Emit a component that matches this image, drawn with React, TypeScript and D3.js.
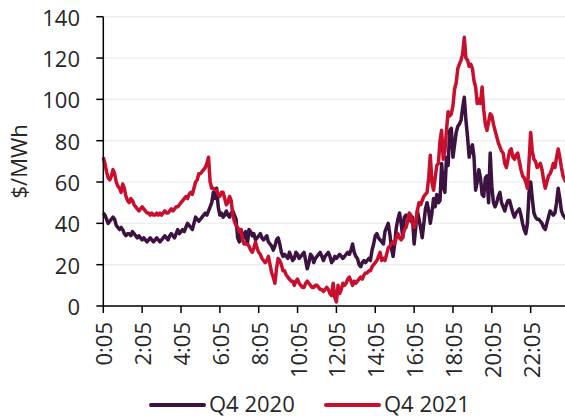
import React from "react";
import * as d3 from "d3";

// 5-minute intervals, 0:05 .. 24:00 (288 points), one hour per row
const q4_2020: number[] = [
  45, 44, 42, 40, 41, 42, 43, 42, 39, 38, 37, 38,
  37, 35, 34, 35, 35, 34, 36, 35, 34, 33, 34, 33,
  32, 33, 32, 31, 32, 33, 32, 31, 32, 33, 32, 31,
  32, 33, 34, 33, 32, 34, 35, 34, 33, 35, 37, 35,
  36, 37, 36, 38, 40, 39, 38, 37, 40, 43, 42, 41,
  42, 43, 44, 45, 44, 46, 48, 50, 55, 52, 57, 48,
  44, 45, 43, 44, 46, 44, 43, 45, 46, 44, 42, 33,
  31, 37, 35, 33, 36, 30, 37, 36, 34, 35, 32, 33,
  34, 35, 33, 32, 33, 34, 31, 30, 29, 27, 29, 32,
  33, 30, 26, 24, 25, 24, 23, 26, 24, 22, 23, 26,
  25, 23, 24, 25, 26, 22, 18, 21, 25, 24, 21, 23,
  24, 25, 26, 24, 22, 24, 25, 26, 24, 21, 22, 24,
  23, 24, 25, 24, 23, 24, 25, 26, 25, 27, 30, 26,
  24, 23, 20, 19, 21, 22, 21, 22, 23, 22, 27, 30,
  34, 35, 33, 32, 31, 30, 36, 38, 40, 35, 28, 24,
  30, 38, 42, 45, 40, 33, 43, 44, 43, 42, 41, 43,
  30, 38, 46, 42, 38, 33, 40, 47, 50, 46, 40, 45,
  52, 48, 54, 50, 51, 69, 58, 55, 72, 68, 85, 86,
  72, 78, 84, 87, 88, 90, 96, 101, 90, 82, 72, 76,
  78, 72, 56, 60, 66, 62, 54, 53, 62, 63, 50, 74,
  58, 50, 48, 50, 53, 55, 50, 48, 46, 49, 51, 51,
  48, 45, 43, 45, 46, 47, 44, 40, 37, 35, 40, 55,
  60, 52, 45, 43, 42, 42, 41, 40, 38, 37, 40, 43,
  46, 45, 44, 45, 50, 57, 52, 46, 44, 43, 42, 41,
];

const q4_2021: number[] = [
  72, 69, 65, 62, 61, 63, 66, 64, 60, 58, 57, 55,
  59, 57, 53, 51, 50, 52, 51, 49, 48, 47, 46, 47,
  48, 47, 46, 45, 45, 44, 45, 44, 44, 45, 44, 45,
  44, 45, 46, 45, 45, 46, 47, 46, 47, 48, 48, 49,
  50, 51, 52, 53, 52, 54, 55, 54, 57, 60, 61, 64,
  64, 65, 66, 67, 69, 72, 60, 57, 57, 56, 56, 54,
  53, 55, 55, 52, 49, 50, 53, 51, 44, 41, 39, 38,
  36, 37, 32, 30, 30, 30, 29, 27, 26, 28, 31, 28,
  26, 25, 23, 22, 21, 22, 24, 20, 16, 14, 11, 18,
  23, 22, 20, 17, 17, 15, 14, 13, 12, 12, 10, 12,
  13, 11, 10, 9, 9, 11, 12, 11, 10, 9, 9, 10,
  10, 9, 8, 8, 7, 8, 9, 8, 6, 5, 11, 4,
  2, 10, 6, 8, 11, 10, 11, 13, 14, 12, 10, 12,
  11, 12, 13, 14, 13, 15, 16, 16, 17, 17, 19, 20,
  21, 22, 24, 26, 22, 23, 22, 25, 28, 29, 30, 31,
  30, 33, 35, 33, 32, 34, 37, 38, 41, 45, 44, 40,
  38, 40, 46, 50, 49, 51, 53, 54, 55, 62, 73, 60,
  56, 62, 68, 69, 80, 85, 71, 75, 85, 94, 92, 93,
  97, 105, 108, 115, 117, 119, 122, 130, 120, 119, 116, 117,
  115, 109, 106, 98, 100, 98, 106, 95, 88, 85, 89, 93,
  92, 88, 85, 82, 79, 77, 75, 74, 69, 67, 71, 75,
  76, 72, 71, 73, 74, 70, 66, 63, 62, 60, 57, 70,
  84, 75, 71, 70, 67, 68, 69, 66, 61, 57, 60, 63,
  64, 66, 69, 67, 72, 76, 72, 67, 63, 61, 60, 59,
];

const xTickLabels: string[] = [
  "0:05", "2:05", "4:05", "6:05", "8:05", "10:05",
  "12:05", "14:05", "16:05", "18:05", "20:05", "22:05",
];
const yTicks: number[] = [0, 20, 40, 60, 80, 100, 120, 140];
const seriesNames: string[] = ["Q4 2020", "Q4 2021"];
const seriesColors: string[] = ["#3b1240", "#c8102e"];

const W = 565;
const H = 418;
const FONT = "'Open Sans', 'Noto Sans', sans-serif";

export default function App() {
  const x = d3.scaleLinear().domain([0, 287]).range([103.3, 567.9]);
  const y = d3.scaleLinear().domain([0, 140]).range([306, 16.7]);
  const line = d3
    .line<number>()
    .x((_, i) => x(i))
    .y((d) => y(d))
    .curve(d3.curveLinear);
  const series = [q4_2020, q4_2021];
  const legendX = [151, 326];

  return (
    <svg
      width={W}
      height={H}
      style={{ position: "absolute", left: 0, top: 0, background: "#fff" }}
      fontFamily={FONT}
    >
      {yTicks.map((t) => (
        <line
          key={"g" + t}
          x1={x(0)}
          x2={W}
          y1={y(t)}
          y2={y(t)}
          stroke="#efefef"
          strokeWidth={1.5}
        />
      ))}
      {series.map((s, k) => (
        <path
          key={"s" + k}
          d={line(s) || ""}
          fill="none"
          stroke={seriesColors[k]}
          strokeWidth={3.5}
          strokeLinejoin="round"
        />
      ))}
      <line x1={x(0)} x2={x(0)} y1={y(140)} y2={y(0)} stroke="#000" strokeWidth={1.5} />
      <line x1={x(0)} x2={W} y1={y(0)} y2={y(0)} stroke="#000" strokeWidth={1.5} />
      {yTicks.map((t) => (
        <g key={"yt" + t}>
          <line x1={x(0) - 7} x2={x(0)} y1={y(t)} y2={y(t)} stroke="#000" strokeWidth={1.5} />
          <text
            x={80}
            y={y(t)}
            textAnchor="end"
            dominantBaseline="central"
            fontSize={22}
            fill="#262626"
          >
            {t}
          </text>
        </g>
      ))}
      {xTickLabels.map((lab, i) => {
        const px = x(i * 24);
        return (
          <g key={"xt" + i}>
            <line x1={px} x2={px} y1={y(0)} y2={y(0) + 7} stroke="#000" strokeWidth={1.5} />
            <text
              transform={`translate(${px},322) rotate(-90)`}
              textAnchor="end"
              dominantBaseline="central"
              fontSize={22}
              fill="#262626"
            >
              {lab}
            </text>
          </g>
        );
      })}
      <text
        transform={`translate(18,${(y(0) + y(140)) / 2}) rotate(-90)`}
        textAnchor="middle"
        dominantBaseline="central"
        fontSize={22}
        fill="#262626"
      >
        $/MWh
      </text>
      {seriesNames.map((n, k) => (
        <g key={"lg" + k}>
          <line
            x1={legendX[k]}
            x2={legendX[k] + 53}
            y1={405}
            y2={405}
            stroke={seriesColors[k]}
            strokeWidth={4}
            strokeLinecap="round"
          />
          <text x={legendX[k] + 58} y={412} fontSize={22} fill="#262626">
            {n}
          </text>
        </g>
      ))}
    </svg>
  );
}
